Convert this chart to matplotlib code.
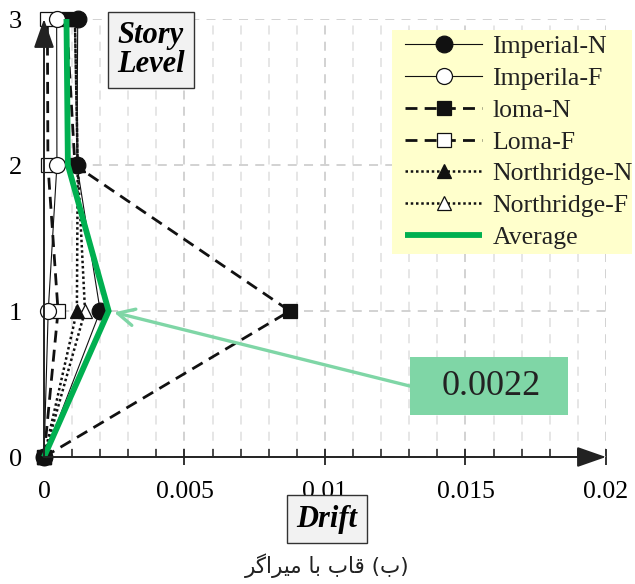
import matplotlib
matplotlib.use("Agg")
import matplotlib.pyplot as plt
from matplotlib.patches import Rectangle
from matplotlib.ticker import MultipleLocator

# story levels and drift per record
levels = [0, 1, 2, 3]
imperial_n = [0, 0.0020, 0.00117, 0.0012]
imperial_f = [0, 0.00015, 0.00046, 0.00045]
loma_n = [0, 0.00875, 0.0011, 0.0008]
loma_f = [0, 0.0005, 0.00014, 0.00012]
northridge_n = [0, 0.00117, 0.0012, 0.0011]
northridge_f = [0, 0.00146, 0.0012, 0.0011]
average = [0, 0.0023, 0.00085, 0.0008]

x_ticks = [0, 0.005, 0.01, 0.015, 0.02]
x_labels = ["0", "0.005", "0.01", "0.015", "0.02"]
y_ticks = [0, 1, 2, 3]
note = "0.0022"
# "(ب) قاب با میراگر" written out in shaped, visual (left-to-right) order
caption = "\ufeae\ufb94\ufe8d\ufeae\ufef4\ufee3 \ufe8e\ufe91 \ufe8f\ufe8e\ufed7 (\ufe8f)"

plt.rcParams.update({"font.family": "serif",
                     "font.serif": ["Liberation Serif", "DejaVu Serif"]})

fig = plt.figure(figsize=(6.35, 5.84), dpi=100)
ax = fig.add_axes([44 / 635, 127 / 584, 562 / 635, 438 / 584])

dash = (0, (4.3, 2.6))
dots = (0, (1, 1.1))
series = [
    (imperial_n, "Imperial-N", dict(ls="-", lw=0.8, marker="o", ms=12, mfc="#111")),
    (imperial_f, "Imperila-F", dict(ls="-", lw=0.8, marker="o", ms=11.5, mfc="white")),
    (loma_n, "loma-N", dict(ls=dash, lw=2.0, marker="s", ms=10, mfc="#111")),
    (loma_f, "Loma-F", dict(ls=dash, lw=2.0, marker="s", ms=10, mfc="white")),
    (northridge_n, "Northridge-N", dict(ls=dots, lw=1.8, marker="^", ms=10.5, mfc="#111")),
    (northridge_f, "Northridge-F", dict(ls=dots, lw=1.8, marker="^", ms=10.5, mfc="white")),
]
for i, (vals, name, st) in enumerate(series):
    # first records sit on top, as in the original
    ax.plot(vals, levels, color="#111", mec="#111", mew=0.9, label=name,
            clip_on=False, zorder=3.9 - 0.1 * i, **st)
ax.plot(average, levels, color="#00b050", lw=4.2, label="Average",
        clip_on=False, zorder=4, solid_joinstyle="miter", solid_capstyle="butt")

ax.set_xlim(0, 0.02)
ax.set_ylim(0, 3)
for s in ax.spines.values():
    s.set_visible(False)

# grid
ax.xaxis.set_minor_locator(MultipleLocator(0.001))
ax.set_xticks(x_ticks)
ax.set_xticklabels(x_labels)
ax.set_yticks(y_ticks)
ax.grid(True, which="major", color="#cfcfcf", ls=(0, (5, 4)), lw=1.3)
ax.grid(True, which="minor", axis="x", color="#e4e4e4", ls=(0, (5, 4)), lw=1.3)
ax.tick_params(axis="x", which="major", direction="inout", length=12, width=1.3,
               color="#222", labelsize=18.5, pad=11)
ax.tick_params(axis="x", which="minor", direction="in", length=6, width=1.1,
               color="#222")
ax.tick_params(axis="y", length=0, labelsize=19, pad=16)

# axis arrows
arr = dict(arrowstyle="-|>,head_length=1.0,head_width=0.35", color="#222", lw=1.4,
           mutation_scale=18, shrinkA=0, shrinkB=0)
ax.annotate("", xy=(0, 3), xytext=(0, 0), arrowprops=arr, annotation_clip=False, zorder=5)
ax.annotate("", xy=(0.02, 0), xytext=(0, 0), arrowprops=arr, annotation_clip=False, zorder=5)

# average callout
ax.add_patch(Rectangle((0.651, 0.096), 0.281, 0.132, transform=ax.transAxes,
                       facecolor="#7fd6a6", edgecolor="none", zorder=6))
ax.text(0.795, 0.162, note, transform=ax.transAxes, fontsize=26,
        ha="center", va="center", color="#222", zorder=7)
ax.annotate("", xy=(average[1], 1), xytext=(0.651, 0.162), textcoords="axes fraction",
            arrowprops=dict(arrowstyle="->,head_length=0.6,head_width=0.3",
                            color="#7fd6a6", lw=2.4, mutation_scale=20,
                            shrinkA=0, shrinkB=4), zorder=6)

# axis title boxes
box = dict(boxstyle="square,pad=0.3", facecolor="#f2f2f2", edgecolor="#333", lw=1)
fig.text(151 / 635, 1 - 50 / 584, "Story\nLevel", fontsize=22, fontweight="bold",
         fontstyle="italic", ha="center", va="center", linespacing=1.0, bbox=box)
fig.text(327 / 635, 1 - 519 / 584, "Drift", fontsize=22, fontweight="bold",
         fontstyle="italic", ha="center", va="center", bbox=box)
fig.text(327 / 635, 1 - 566 / 584, caption, fontsize=15.5, family="DejaVu Sans",
         ha="center", va="center", color="#222")

# legend on its own yellow panel
fig.patches.append(Rectangle((392 / 635, 1 - 254 / 584), 240 / 635, 224 / 584,
                             transform=fig.transFigure, facecolor="#ffffcc",
                             edgecolor="none", zorder=0.5))
leg = fig.legend(loc="upper left", bbox_to_anchor=(405 / 635, 1 - 35 / 584),
                 fontsize=18.5, frameon=False, borderaxespad=0, borderpad=0,
                 handlelength=3.0, handletextpad=0.4, labelspacing=0.345)
for t in leg.get_texts():
    t.set_color("#222")

fig.savefig("out.png", dpi=100)
